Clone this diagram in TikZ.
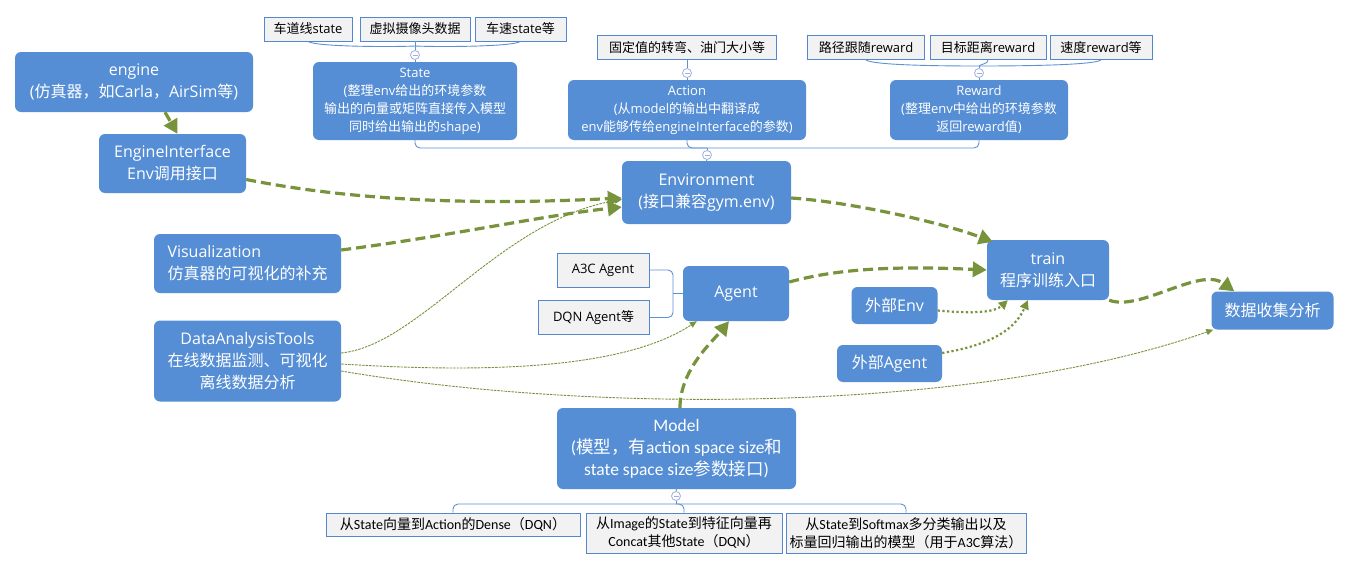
\documentclass[tikz,border=0pt]{standalone}
\usepackage{fontspec}
\setmainfont{Open Sans}
\newfontfamily\osans{Open Sans}
\newfontfamily\carl{Carlito}
\newfontfamily\cjkf{Noto Sans CJK SC}
\def\latsw{\osans}
\newcommand\segf{\def\latsw{\osans}\osans}
\newcommand\calf{\def\latsw{\carl}\carl}
\XeTeXinterchartokenstate=1
\count255="3000
\loop \XeTeXcharclass\count255=7 \ifnum\count255<"303F \advance\count255 by 1 \repeat
\count255="4E00
\loop \XeTeXcharclass\count255=7 \ifnum\count255<"9FFF \advance\count255 by 1 \repeat
\count255="FF00
\loop \XeTeXcharclass\count255=7 \ifnum\count255<"FFEF \advance\count255 by 1 \repeat
\XeTeXinterchartoks 0 7 = {\cjkf}
\XeTeXinterchartoks 4095 7 = {\cjkf}
\XeTeXinterchartoks 7 0 = {\latsw}
\XeTeXinterchartoks 7 4095 = {\latsw}
\usetikzlibrary{arrows.meta}
\definecolor{blueF}{RGB}{85,142,213}
\definecolor{boxB}{RGB}{84,135,205}
\definecolor{grayF}{RGB}{242,242,242}
\definecolor{oliveG}{RGB}{119,147,60}
\definecolor{braceC}{RGB}{95,145,210}
\definecolor{togC}{RGB}{160,175,225}
\tikzset{
  mainbox/.style={rectangle, rounded corners=6pt, fill=blueF, text=white, align=center, inner sep=0pt, font=\segf\fontsize{16}{22}\selectfont},
  descbox/.style={mainbox, font=\segf\fontsize{13}{18}\selectfont},
  modelbox/.style={mainbox, font=\calf\fontsize{17.5}{22}\selectfont},
  subbox/.style={rectangle, fill=grayF, draw=boxB, line width=0.9pt, text=black, align=center, inner sep=0pt, font=\segf\fontsize{13}{16}\selectfont},
  lowbox/.style={subbox, font=\calf\fontsize{14}{18}\selectfont},
  bigflow/.style={draw=oliveG, line width=3.2pt, dash pattern=on 10pt off 5pt, -{Triangle[length=14pt,width=15pt]}},
  dotflow/.style={draw=oliveG, line width=2.2pt, dash pattern=on 2.2pt off 2.5pt, -{Triangle[length=9pt,width=9pt]}},
  thinflow/.style={draw=oliveG, line width=0.9pt, dash pattern=on 2.5pt off 1pt, -{Triangle[length=7pt,width=6pt]}},
  brace/.style={draw=braceC, line width=0.9pt, rounded corners=5pt},
  toggle/.style={circle, draw=togC, fill=white, line width=0.8pt, minimum size=9pt, inner sep=0pt,
    path picture={\draw[togC, line width=0.8pt] ([xshift=-2.5pt]path picture bounding box.center) -- ([xshift=2.5pt]path picture bounding box.center);}}
}
\begin{document}
\begin{tikzpicture}[x=1pt, y=-1pt]
\fill[white] (0,0) rectangle (1350,570);
\useasboundingbox (0,0) rectangle (1350,570);

% main boxes
\node[mainbox, minimum width=238, minimum height=60] (engine) at (134,82) {engine\\(仿真器，如Carla，AirSim等)};
\node[mainbox, minimum width=147, minimum height=59] (EI) at (172.5,163.5) {EngineInterface\\Env调用接口};
\node[descbox, minimum width=204, minimum height=78] (State) at (415,101) {State\\(整理env给出的环境参数\\输出的向量或矩阵直接传入模型\\同时给出输出的shape)};
\node[descbox, minimum width=238, minimum height=60] (Action) at (687,110) {Action\\(从model的输出中翻译成\\env能够传给engineInterface的参数)};
\node[descbox, minimum width=178, minimum height=60] (Reward) at (979,110) {Reward\\(整理env中给出的环境参数\\返回reward值)};
\node[mainbox, minimum width=169, minimum height=63] (Env) at (706.5,192.5) {Environment\\(接口兼容gym.env)};
\node[mainbox, align=left, minimum width=187, minimum height=59] (Vis) at (247.5,263.5) {Visualization\\仿真器的可视化的补充};
\node[mainbox, minimum width=187, minimum height=81] (DAT) at (247.5,361) {DataAnalysisTools\\在线数据监测、可视化\\离线数据分析};
\node[mainbox, minimum width=106, minimum height=55] (Agent) at (736,293.5) {Agent};
\node[mainbox, minimum width=122, minimum height=60] (train) at (1048,270) {train\\程序训练入口};
\node[mainbox, minimum width=122, minimum height=38] (Data) at (1272.5,310.5) {数据收集分析};
\node[mainbox, minimum width=86, minimum height=37] (ExE) at (894.5,305.5) {外部Env};
\node[mainbox, minimum width=105, minimum height=37] (ExA) at (889.5,363.5) {外部Agent};
\node[modelbox, minimum width=239, minimum height=81] (Model) at (676.5,448.5) {Model\\(模型，有action space size和\\state space size参数接口)};

% sub boxes
\node[subbox, minimum width=88, minimum height=24] (s1) at (308,29) {车道线state};
\node[subbox, minimum width=110, minimum height=24] (s2) at (415,29) {虚拟摄像头数据};
\node[subbox, minimum width=91, minimum height=24] (s3) at (520.5,29) {车速state等};
\node[subbox, minimum width=179, minimum height=24] (f1) at (687,47.5) {固定值的转弯、油门大小等};
\node[subbox, minimum width=117, minimum height=24] (r1) at (866,47.5) {路径跟随reward};
\node[subbox, minimum width=116, minimum height=24] (r2) at (988,47.5) {目标距离reward};
\node[subbox, minimum width=102, minimum height=24] (r3) at (1101,47.5) {速度reward等};
\node[subbox, minimum width=92, minimum height=34] (a3c) at (603,270) {A3C Agent};
\node[subbox, minimum width=111, minimum height=34] (dqn) at (593.5,317.5) {DQN Agent等};
\node[lowbox, minimum width=254, minimum height=23] (b1) at (453,524.5) {从State向量到Action的Dense（DQN）};
\node[lowbox, minimum width=196, minimum height=40] (b2) at (684,533) {从Image的State到特征向量再\\Concat其他State（DQN）};
\node[lowbox, minimum width=240, minimum height=40] (b3) at (906,533) {从State到Softmax多分类输出以及\\标量回归输出的模型（用于A3C算法）};

% toggles and joints
\node[toggle] (tS) at (415,55) {};
\node[toggle] (tA) at (687,73) {};
\node[toggle] (tR) at (979,73) {};
\node[toggle] (tE) at (707,155) {};
\node[toggle] (tM) at (676,496) {};
\coordinate (sj) at (415,46);
\coordinate (rj) at (979,66);
\coordinate (ej) at (707,148);
\coordinate (mj) at (676,504);
\coordinate (aj) at (673,293.5);

% brace lines
\draw[brace] (s1.south) .. controls (316,47) and (395,47) .. (sj);
\draw[brace] (s3.south) .. controls (512,47) and (435,47) .. (sj);
\draw[brace] (s2.south) -- (tS.north);
\draw[brace] (tS.south) -- (State.north);
\draw[brace] (f1.south) -- (tA.north);
\draw[brace] (tA.south) -- (Action.north);
\draw[brace] (r1.south) .. controls (874,66) and (960,66) .. (rj);
\draw[brace] (r2.south) .. controls (988,64) and (981,64) .. (rj);
\draw[brace] (r3.south) .. controls (1093,66) and (998,66) .. (rj);
\draw[brace] (rj) -- (tR.north);
\draw[brace] (tR.south) -- (Reward.north);
\draw[brace] (State.south) |- (ej) -| (Reward.south);
\draw[brace] (Action.south) |- (ej);
\draw[brace] (ej) -- (tE.north);
\draw[brace] (tE.south) -- (Env.north);
\draw[brace] (a3c.east) -| (aj) |- (dqn.east);
\draw[brace] (aj) -- (Agent.west);
\draw[brace] (Model.south) -- (tM.north);
\draw[brace] (tM.south) -- (mj);
\draw[brace] (b1.north) |- (mj) -| (b3.north);
\draw[brace] (b2.north) |- (mj);

% thin dashed flows
\draw[thinflow] ([yshift=8]DAT.east) .. controls (420,345) and (500,220) .. ([yshift=-7]Env.west);
\draw[thinflow] ([yshift=-3]DAT.east) .. controls (470,372) and (620,372) .. ([xshift=14]Agent.south west);
\draw[thinflow] ([yshift=-10]DAT.east) .. controls (600,415) and (980,412) .. ([xshift=2]Data.south west);

% thick dashed flows
\draw[bigflow] ([xshift=31]engine.south) -- ([xshift=5]EI.north);
\draw[bigflow] ([yshift=-16]EI.east) .. controls (380,206) and (520,203) .. ([yshift=-5.5]Env.west);
\draw[bigflow] ([yshift=13.5]Vis.east) .. controls (450,236) and (540,216) .. ([yshift=-14.5]Env.west);
\draw[bigflow] ([yshift=-5.5]Env.east) .. controls (850,202) and (940,222) .. ([xshift=6,yshift=-2]train.north west);
\draw[bigflow] ([yshift=11.5]Agent.east) .. controls (840,268) and (900,266) .. (train.west);
\draw[bigflow] ([xshift=3.5]Model.north) .. controls (680,370) and (712,342) .. ([xshift=-7]Agent.south);
\draw[bigflow] (train.south east) .. controls (1140,312) and (1200,266) .. ([xshift=23]Data.north west);

% dotted flows
\draw[dotflow] ([yshift=-5]ExE.east) .. controls (975,314) and (995,312) .. ([xshift=21]train.south west);
\draw[dotflow] ([yshift=10.5]ExA.east) .. controls (990,345) and (1015,330) .. ([xshift=41]train.south west);
\end{tikzpicture}
\end{document}
